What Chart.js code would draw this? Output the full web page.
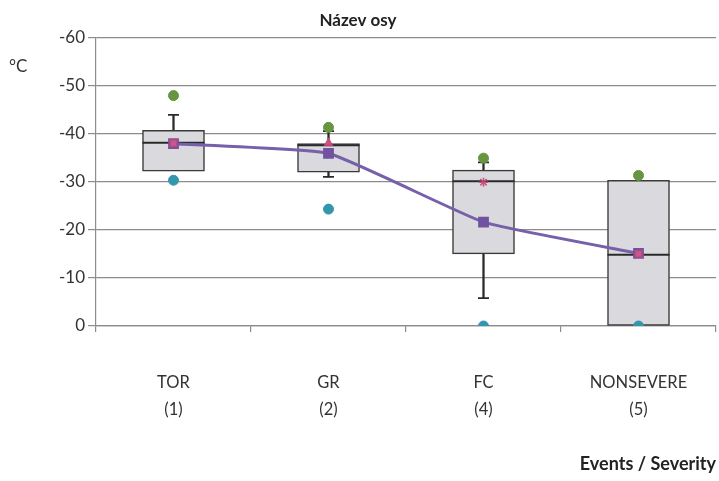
<!DOCTYPE html>
<html>
<head>
<meta charset="utf-8">
<script src="https://cdn.jsdelivr.net/npm/chart.js@4.4.1/dist/chart.umd.min.js"></script>
<style>
  html, body { margin: 0; padding: 0; background: #fff; }
  #wrap { position: relative; width: 719px; height: 481px; }
  #unit { position: absolute; left: 9px; top: 55px; font: 17px Lato, "Open Sans", sans-serif; color: #333; }
</style>
</head>
<body>
<div id="wrap">
  <canvas id="c" width="719" height="481"></canvas>
  <div id="unit">°C</div>
</div>
<script>
// ---- data ----
const categories = [['TOR', '(1)'], ['GR', '(2)'], ['FC', '(4)'], ['NONSEVERE', '(5)']];
const yTicks = [-60, -50, -40, -30, -20, -10, 0];
const boxLow = [-32.2, -32.0, -15.0, 0];
const boxHigh = [-40.7, -37.9, -32.4, -30.3];
const medians = [-38.1, -37.6, -30.1, -14.8];
const whiskerUpper = [-43.9, -40.5, -34.0, null];
const whiskerLower = [null, -31.0, -5.8, null];
const maxValues = [-47.9, -41.3, -34.9, -31.3];
const minValues = [-30.3, -24.3, 0, 0];
const meanValues = [-37.9, -35.9, -21.6, -15.1];
const otherValues = [-38.0, -38.0, -29.9, -15.0];

const boxData = boxLow.map((v, i) => [v, boxHigh[i]]);
const upperStem = whiskerUpper.map((v, i) => v === null ? null : [boxHigh[i], v]);
const lowerStem = whiskerLower.map((v, i) => v === null ? null : [boxLow[i], v]);

const FONT = 'Lato, "Open Sans", sans-serif';

new Chart(document.getElementById('c'), {
  type: 'bar',
  data: {
    labels: categories,
    datasets: [
      { type: 'line', data: otherValues, showLine: false, order: 0,
        pointStyle: ['rect', 'triangle', 'star', 'rect'], pointRadius: 4.5,
        pointBackgroundColor: 'rgba(214,90,140,0.85)', pointBorderColor: 'rgba(200,70,120,0.9)', pointBorderWidth: 1.5 },
      { type: 'line', data: meanValues, order: 1, tension: 0.12,
        borderColor: 'rgb(118,96,170)', borderWidth: 3,
        pointStyle: 'rect', pointRadius: 5.5,
        pointBackgroundColor: 'rgb(112,82,160)', pointBorderColor: 'rgb(112,82,160)' },
      { type: 'line', data: maxValues, showLine: false, order: 2,
        pointStyle: 'circle', pointRadius: 5,
        pointBackgroundColor: 'rgb(104,150,64)', pointBorderColor: 'rgb(104,150,64)' },
      { type: 'line', data: minValues, showLine: false, order: 3,
        pointStyle: 'circle', pointRadius: 5,
        pointBackgroundColor: 'rgb(52,150,172)', pointBorderColor: 'rgb(52,150,172)' },
      { type: 'line', data: medians, showLine: false, order: 4,
        pointStyle: 'line', pointRadius: 31, borderColor: '#2a2a2a', pointBorderColor: '#2a2a2a', pointBorderWidth: 2 },
      { type: 'line', data: whiskerUpper, showLine: false, order: 5,
        pointStyle: 'line', pointRadius: 5.5, pointBorderColor: '#2a2a2a', pointBorderWidth: 1.8 },
      { type: 'line', data: whiskerLower, showLine: false, order: 5,
        pointStyle: 'line', pointRadius: 5.5, pointBorderColor: '#2a2a2a', pointBorderWidth: 1.8 },
      { data: boxData, order: 6, grouped: false, barThickness: 62,
        backgroundColor: 'rgb(218,218,222)', borderColor: '#3a3a3a', borderWidth: 1.5, borderSkipped: false },
      { data: upperStem, order: 7, grouped: false, barThickness: 1.6,
        backgroundColor: '#2a2a2a', borderWidth: 0 },
      { data: lowerStem, order: 7, grouped: false, barThickness: 1.6,
        backgroundColor: '#2a2a2a', borderWidth: 0 }
    ]
  },
  options: {
    responsive: false,
    animation: false,
    events: [],
    layout: { autoPadding: false, padding: { left: 0, right: 3, top: 0, bottom: 0 } },
    plugins: {
      legend: { display: false },
      tooltip: { enabled: false },
      title: { display: true, text: 'Název osy', color: '#222',
        font: { family: FONT, size: 17, weight: 'bold', lineHeight: 1.2 }, padding: { top: 10, bottom: 7 } }
    },
    scales: {
      x: {
        offset: true,
        grid: { display: true, drawOnChartArea: false, offset: true, color: '#8c8c8c', lineWidth: 1.2, tickLength: 6 },
        border: { color: '#8c8c8c', width: 1.2 },
        ticks: { color: '#333', font: { family: FONT, size: 16.5, lineHeight: 1.65 }, padding: 37, maxRotation: 0 },
        title: { display: true, text: 'Events / Severity', align: 'end', color: '#222',
          font: { family: FONT, size: 18, weight: 'bold', lineHeight: 1.2 }, padding: { top: 0, bottom: 6 } },
        afterFit: (s) => { s.height = 155; s.paddingLeft = 0; s.paddingRight = 0; }
      },
      y: {
        reverse: true,
        min: -60, max: 0,
        afterBuildTicks: (s) => { s.ticks = yTicks.map(v => ({ value: v })); },
        grid: { color: '#8c8c8c', lineWidth: 1.2, tickLength: 8 },
        border: { color: '#8c8c8c', width: 1.2 },
        ticks: { color: '#333', font: { family: FONT, size: 17 }, padding: 3 },
        afterFit: (s) => { s.width = 96; }
      }
    }
  }
});
</script>
</body>
</html>
